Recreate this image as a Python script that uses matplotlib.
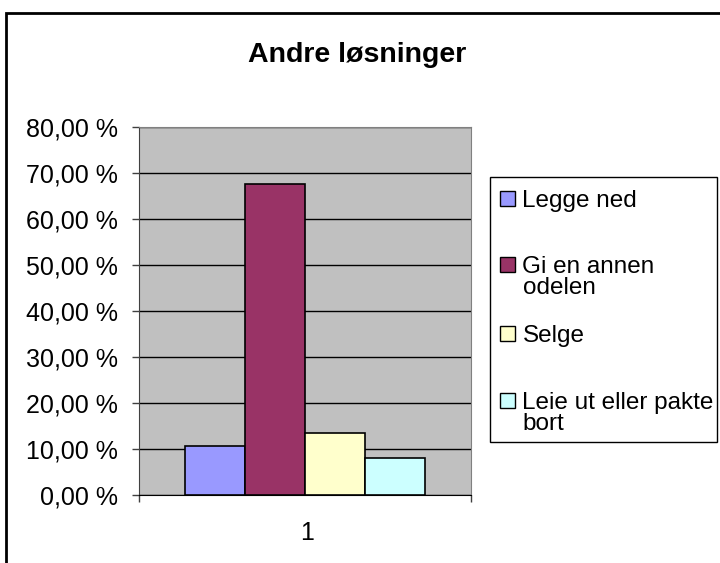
import matplotlib
matplotlib.use("Agg")
import matplotlib.pyplot as plt
from matplotlib.patches import Rectangle
from matplotlib.ticker import FuncFormatter

plt.rcParams['font.family'] = ['Liberation Sans', 'DejaVu Sans']

title = "Andre løsninger"
categories = ["Legge ned", "Gi en annen odelen", "Selge", "Leie ut eller pakte bort"]
legend_labels = ["Legge ned", "Gi en annen\nodelen", "Selge", "Leie ut eller pakte\nbort"]
values = [10.66, 67.66, 13.56, 8.05]
colors = ["#9999FF", "#993366", "#FFFFCC", "#CCFFFF"]
group_label = "1"
y_ticks = [0, 10, 20, 30, 40, 50, 60, 70, 80]

W, H = 720, 563
fig = plt.figure(figsize=(W / 100, H / 100), dpi=100)


def fx(px):
    return px / W


def fy(py):
    return 1 - py / H


# outer chart border
fig.add_artist(Rectangle((fx(6), fy(700)), 2, fy(12.5) - fy(700),
                         transform=fig.transFigure, fill=False,
                         edgecolor="black", lw=2))

fig.text(fx(357), fy(55), title, ha="center", va="center",
         fontsize=20.5, fontweight="bold")

# plot area
left, right, top, bottom = 139, 470.7, 127.3, 495
ax = fig.add_axes([fx(left), fy(bottom), fx(right - left), fy(top) - fy(bottom)])
ax.set_facecolor("#C0C0C0")

w = 0.181
n = len(values)
for i, (v, c) in enumerate(zip(values, colors)):
    ax.bar((i - (n - 1) / 2) * w, v, width=w, color=c, edgecolor="black",
           linewidth=1.2, zorder=3)

ax.set_xlim(-0.5, 0.5)
ax.set_ylim(0, 80)
ax.set_yticks(y_ticks)
ax.yaxis.set_major_formatter(FuncFormatter(lambda v, p: f"{v:.2f} %".replace(".", ",")))
ax.grid(axis="y", color="black", linewidth=1, zorder=1)
ax.tick_params(axis="y", direction="out", length=5, width=1, color="#404040",
               labelsize=18, pad=10)
ax.set_xticks([-0.5, 0.5])
ax.set_xticklabels(["", ""])
ax.tick_params(axis="x", direction="out", length=5, width=1, color="#404040")
ax.text(0.0065, -0.103, group_label, transform=ax.get_xaxis_transform(),
        ha="center", va="center", fontsize=18)

for side in ["top", "right"]:
    ax.spines[side].set_color("#808080")
ax.spines["left"].set_color("#404040")
ax.spines["bottom"].set_color("black")

# legend box, entries laid out like the spreadsheet legend
lg_left, lg_right, lg_top, lg_bottom = 490, 717, 176.7, 442
fig.add_artist(Rectangle((fx(lg_left), fy(lg_bottom)), fx(lg_right - lg_left),
                         fy(lg_top) - fy(lg_bottom), transform=fig.transFigure,
                         facecolor="white", edgecolor="black", lw=1))
centers = [198.3, 264.3, 333.7, 400.3]
sq = 15
line_pitch = 21.5
for lab, c, cy in zip(legend_labels, colors, centers):
    fig.add_artist(Rectangle((fx(500), fy(cy + sq / 2)), fx(sq), fy(cy - sq / 2) - fy(cy + sq / 2),
                             transform=fig.transFigure, facecolor=c,
                             edgecolor="black", lw=1))
    for k, line in enumerate(lab.split("\n")):
        fig.text(fx(522.5), fy(cy + 8.7 + k * line_pitch), line, ha="left",
                 va="baseline", fontsize=17.5)

fig.savefig("out.png", dpi=100)
